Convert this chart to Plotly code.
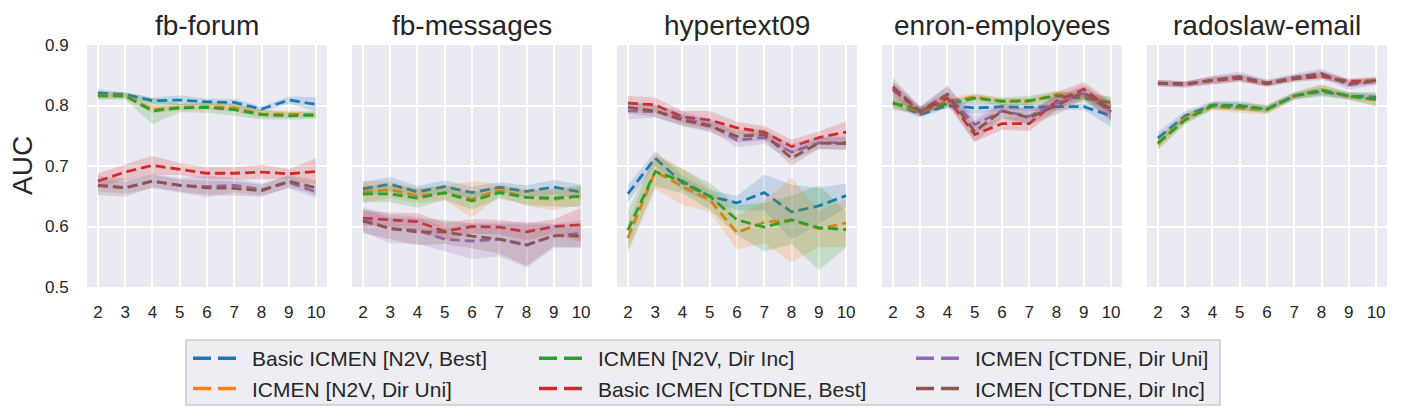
import plotly.graph_objects as go

K = [2, 3, 4, 5, 6, 7, 8, 9, 10]
DATASETS = ["fb-forum", "fb-messages", "hypertext09", "enron-employees", "radoslaw-email"]
METHODS = ["Basic ICMEN [N2V, Best]", "ICMEN [N2V, Dir Uni]", "ICMEN [N2V, Dir Inc]",
           "Basic ICMEN [CTDNE, Best]", "ICMEN [CTDNE, Dir Uni]", "ICMEN [CTDNE, Dir Inc]"]
COLORS = ["#1f77b4", "#ff7f0e", "#2ca02c", "#d62728", "#9467bd", "#8c564b"]
FILLS = ["rgba(31,119,180,0.2)", "rgba(255,127,14,0.2)", "rgba(44,160,44,0.2)",
         "rgba(214,39,40,0.2)", "rgba(148,103,189,0.2)", "rgba(140,86,75,0.2)"]
LEGEND_COLUMN = ["legend", "legend", "legend2", "legend2", "legend3", "legend3"]

# mean AUC per method (rows follow METHODS), per k
FB_FORUM = [
    [0.821, 0.818, 0.808, 0.809, 0.806, 0.805, 0.794, 0.809, 0.802],
    [0.816, 0.816, 0.793, 0.797, 0.798, 0.796, 0.786, 0.786, 0.785],
    [0.816, 0.816, 0.791, 0.796, 0.797, 0.793, 0.785, 0.783, 0.784],
    [0.675, 0.690, 0.701, 0.695, 0.688, 0.688, 0.690, 0.687, 0.691],
    [0.668, 0.664, 0.675, 0.668, 0.666, 0.668, 0.661, 0.673, 0.657],
    [0.668, 0.664, 0.675, 0.668, 0.664, 0.663, 0.659, 0.675, 0.664],
]
FB_FORUM_CI = [
    [0.006, 0.004, 0.005, 0.008, 0.005, 0.006, 0.004, 0.006, 0.012],
    [0.006, 0.005, 0.006, 0.005, 0.005, 0.006, 0.007, 0.006, 0.005],
    [0.006, 0.006, 0.022, 0.007, 0.009, 0.010, 0.008, 0.006, 0.006],
    [0.013, 0.012, 0.016, 0.010, 0.010, 0.010, 0.012, 0.008, 0.022],
    [0.010, 0.010, 0.012, 0.012, 0.018, 0.012, 0.010, 0.010, 0.010],
    [0.016, 0.015, 0.010, 0.010, 0.012, 0.012, 0.010, 0.010, 0.012],
]
FB_MESSAGES = [
    [0.662, 0.670, 0.657, 0.666, 0.656, 0.665, 0.658, 0.665, 0.657],
    [0.657, 0.661, 0.651, 0.655, 0.645, 0.660, 0.648, 0.645, 0.651],
    [0.654, 0.654, 0.647, 0.656, 0.642, 0.656, 0.648, 0.647, 0.650],
    [0.614, 0.611, 0.608, 0.592, 0.600, 0.599, 0.591, 0.600, 0.603],
    [0.612, 0.596, 0.594, 0.579, 0.576, 0.579, 0.570, 0.584, 0.589],
    [0.609, 0.597, 0.591, 0.591, 0.584, 0.579, 0.569, 0.585, 0.584],
]
FB_MESSAGES_CI = [
    [0.012, 0.012, 0.010, 0.010, 0.010, 0.008, 0.010, 0.012, 0.012],
    [0.018, 0.014, 0.012, 0.012, 0.030, 0.010, 0.014, 0.018, 0.015],
    [0.014, 0.014, 0.016, 0.012, 0.014, 0.010, 0.012, 0.014, 0.018],
    [0.012, 0.012, 0.014, 0.014, 0.012, 0.012, 0.014, 0.012, 0.028],
    [0.020, 0.024, 0.022, 0.020, 0.030, 0.028, 0.038, 0.020, 0.022],
    [0.020, 0.018, 0.022, 0.020, 0.020, 0.024, 0.034, 0.018, 0.020],
]
HYPERTEXT09 = [
    [0.654, 0.713, 0.672, 0.650, 0.639, 0.656, 0.624, 0.634, 0.651],
    [0.581, 0.691, 0.666, 0.644, 0.590, 0.607, 0.611, 0.596, 0.606],
    [0.594, 0.691, 0.675, 0.650, 0.611, 0.599, 0.611, 0.598, 0.595],
    [0.804, 0.801, 0.781, 0.776, 0.763, 0.756, 0.732, 0.747, 0.756],
    [0.791, 0.790, 0.779, 0.768, 0.743, 0.747, 0.723, 0.738, 0.739],
    [0.797, 0.791, 0.776, 0.766, 0.749, 0.752, 0.713, 0.738, 0.737],
]
HYPERTEXT09_CI = [
    [0.014, 0.012, 0.012, 0.010, 0.012, 0.030, 0.045, 0.030, 0.020],
    [0.025, 0.030, 0.030, 0.020, 0.028, 0.035, 0.070, 0.030, 0.040],
    [0.033, 0.025, 0.020, 0.022, 0.025, 0.040, 0.040, 0.070, 0.030],
    [0.012, 0.012, 0.010, 0.015, 0.010, 0.010, 0.012, 0.010, 0.018],
    [0.014, 0.010, 0.012, 0.010, 0.012, 0.010, 0.014, 0.010, 0.012],
    [0.010, 0.010, 0.010, 0.010, 0.010, 0.010, 0.012, 0.010, 0.010],
]
ENRON = [
    [0.805, 0.785, 0.800, 0.796, 0.798, 0.797, 0.798, 0.798, 0.783],
    [0.804, 0.790, 0.807, 0.814, 0.807, 0.807, 0.818, 0.815, 0.803],
    [0.804, 0.793, 0.802, 0.812, 0.807, 0.808, 0.816, 0.812, 0.805],
    [0.826, 0.790, 0.812, 0.752, 0.770, 0.770, 0.807, 0.827, 0.793],
    [0.829, 0.791, 0.819, 0.768, 0.791, 0.782, 0.804, 0.820, 0.790],
    [0.831, 0.790, 0.818, 0.757, 0.791, 0.780, 0.800, 0.822, 0.790],
]
ENRON_CI = [
    [0.008, 0.005, 0.005, 0.010, 0.005, 0.006, 0.006, 0.005, 0.018],
    [0.008, 0.006, 0.006, 0.006, 0.006, 0.006, 0.006, 0.006, 0.010],
    [0.012, 0.006, 0.006, 0.006, 0.006, 0.008, 0.008, 0.008, 0.010],
    [0.012, 0.008, 0.010, 0.012, 0.010, 0.012, 0.015, 0.012, 0.015],
    [0.010, 0.008, 0.012, 0.015, 0.010, 0.012, 0.012, 0.010, 0.015],
    [0.015, 0.008, 0.015, 0.018, 0.012, 0.012, 0.015, 0.012, 0.015],
]
RADOSLAW = [
    [0.746, 0.783, 0.801, 0.800, 0.794, 0.816, 0.823, 0.816, 0.814],
    [0.736, 0.779, 0.798, 0.796, 0.793, 0.816, 0.826, 0.815, 0.809],
    [0.738, 0.776, 0.800, 0.798, 0.794, 0.816, 0.825, 0.816, 0.810],
    [0.837, 0.836, 0.841, 0.845, 0.836, 0.844, 0.848, 0.840, 0.841],
    [0.837, 0.834, 0.842, 0.848, 0.837, 0.847, 0.853, 0.834, 0.840],
    [0.837, 0.835, 0.842, 0.847, 0.837, 0.845, 0.852, 0.836, 0.841],
]
RADOSLAW_CI = [
    [0.010, 0.008, 0.006, 0.008, 0.006, 0.006, 0.006, 0.006, 0.006],
    [0.010, 0.008, 0.006, 0.008, 0.008, 0.006, 0.008, 0.006, 0.008],
    [0.010, 0.008, 0.006, 0.006, 0.006, 0.006, 0.010, 0.006, 0.012],
    [0.005, 0.004, 0.006, 0.006, 0.005, 0.005, 0.006, 0.005, 0.006],
    [0.006, 0.005, 0.008, 0.008, 0.006, 0.006, 0.008, 0.008, 0.006],
    [0.005, 0.005, 0.006, 0.006, 0.005, 0.005, 0.006, 0.006, 0.006],
]
Y_TICKS = [0.5, 0.6, 0.7, 0.8, 0.9]
Y_LABEL = "AUC"

MEANS = [FB_FORUM, FB_MESSAGES, HYPERTEXT09, ENRON, RADOSLAW]
CIS = [FB_FORUM_CI, FB_MESSAGES_CI, HYPERTEXT09_CI, ENRON_CI, RADOSLAW_CI]

FONT = "Liberation Sans, Arial, sans-serif"
TXT = "#262626"
BG = "#eaeaf2"

W, H = 1406, 417
ML, MR, MT, MB = 87, 19, 45, 130
PW = W - ML - MR
PH = H - MT - MB
PANEL, GAP = 240, 25

fig = go.Figure()
layout = {}
annotations = []
for p, name in enumerate(DATASETS):
    ax = "" if p == 0 else str(p + 1)
    x0 = p * (PANEL + GAP) / PW
    x1 = (p * (PANEL + GAP) + PANEL) / PW
    for m in range(len(METHODS)):
        mean = MEANS[p][m]
        ci = CIS[p][m]
        upper = [a + b for a, b in zip(mean, ci)]
        lower = [a - b for a, b in zip(mean, ci)]
        fig.add_trace(go.Scatter(
            x=K + K[::-1], y=upper + lower[::-1], fill="toself",
            fillcolor=FILLS[m], line=dict(width=0), mode="lines",
            hoverinfo="skip", showlegend=False,
            xaxis="x" + ax, yaxis="y" + ax))
        fig.add_trace(go.Scatter(
            x=K, y=mean, mode="lines", name=METHODS[m],
            line=dict(color=COLORS[m], width=2.8, dash="10px,5px"),
            showlegend=False,
            xaxis="x" + ax, yaxis="y" + ax))
    layout["xaxis" + ax] = dict(
        domain=[x0, x1], anchor="y" + ax, range=[1.6, 10.4],
        tickvals=K, ticks="outside", ticklen=10, tickcolor="rgba(0,0,0,0)",
        showgrid=True, gridcolor="white", gridwidth=1.5, zeroline=False,
        showline=False, tickfont=dict(size=17, color=TXT, family=FONT))
    layout["yaxis" + ax] = dict(
        domain=[0, 1], anchor="x" + ax, range=[0.5, 0.9],
        tickvals=Y_TICKS, ticktext=[f"{v:.1f}" for v in Y_TICKS],
        showticklabels=(p == 0), ticks="outside" if p == 0 else "",
        ticklen=14, tickcolor="rgba(0,0,0,0)",
        showgrid=True, gridcolor="white", gridwidth=1.5, zeroline=False,
        showline=False, tickfont=dict(size=17, color=TXT, family=FONT))
    annotations.append(dict(
        text=name, x=(x0 + x1) / 2, y=(H - MB - 25) / PH,
        xref="paper", yref="paper", xanchor="center", yanchor="middle",
        showarrow=False, font=dict(size=28, color=TXT, family=FONT)))

# y-axis label of the first panel
annotations.append(dict(
    text=Y_LABEL, textangle=-90, x=(22 - ML) / PW, y=(H - MB - 166) / PH,
    xref="paper", yref="paper", xanchor="center", yanchor="middle",
    showarrow=False, font=dict(size=28, color=TXT, family=FONT)))

# legend-only entries (two long dashes, then a gap before the label)
for m in range(len(METHODS)):
    fig.add_trace(go.Scatter(
        x=[None], y=[None], mode="lines", name=METHODS[m],
        line=dict(color=COLORS[m], width=3.5, dash="18px,7px,18px,30px"),
        legend=LEGEND_COLUMN[m], showlegend=True))

# legend frame (px in figure), drawn as a paper-referenced rectangle
BOX_L, BOX_R, BOX_T, BOX_B = 186, 1220, 340, 405
shapes = [dict(
    type="rect", xref="paper", yref="paper", layer="below",
    x0=(BOX_L - ML) / PW, x1=(BOX_R - ML) / PW,
    y0=(H - MB - BOX_B) / PH, y1=(H - MB - BOX_T) / PH,
    fillcolor="#ededf3", line=dict(color="#cccccc", width=1.5))]

legend_common = dict(
    orientation="v", xref="container", yref="container", xanchor="left",
    yanchor="top", y=1 - 338 / H, bgcolor="rgba(0,0,0,0)", borderwidth=0,
    font=dict(size=21, color=TXT, family=FONT), itemwidth=54, tracegroupgap=0)
COL_LEFT = [188, 534, 911]

fig.update_layout(
    **layout,
    annotations=annotations,
    shapes=shapes,
    width=W, height=H,
    margin=dict(l=ML, r=MR, t=MT, b=MB, autoexpand=False),
    paper_bgcolor="white", plot_bgcolor=BG,
    font=dict(family=FONT, color=TXT),
    legend=dict(legend_common, x=COL_LEFT[0] / W),
    legend2=dict(legend_common, x=COL_LEFT[1] / W),
    legend3=dict(legend_common, x=COL_LEFT[2] / W),
)
fig.write_html("out.html")
